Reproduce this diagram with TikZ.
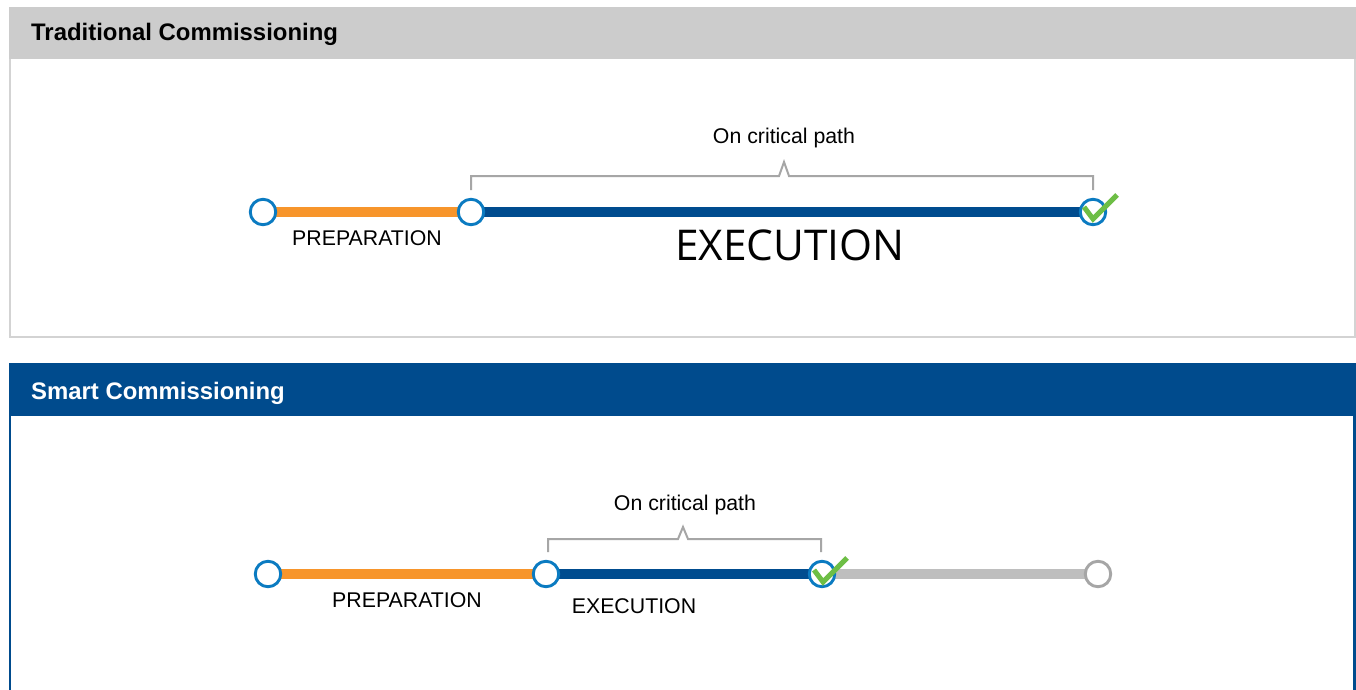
\documentclass[tikz,border=0pt]{standalone}
\usepackage{fontspec}
\setmainfont{Liberation Sans}
\newfontfamily\execfont{Open Sans}
\usetikzlibrary{calc}
\definecolor{hdrgray}{HTML}{CCCCCC}
\definecolor{bordgray}{HTML}{D3D3D3}
\definecolor{hdrblue}{HTML}{004B8D}
\definecolor{linblue}{HTML}{004C8F}
\definecolor{ringblue}{HTML}{0B7BC1}
\definecolor{prepor}{HTML}{F7952B}
\definecolor{restgray}{HTML}{BEBEBE}
\definecolor{ringgray}{HTML}{A6A6A6}
\definecolor{brgray}{HTML}{A6A6A6}
\definecolor{chkgreen}{HTML}{6DBE45}
\pgfdeclarelayer{lines}
\pgfdeclarelayer{background}
\pgfsetlayers{background,lines,main}
\tikzset{
  ring/.style={circle,draw=ringblue,fill=white,line width=2.9pt,minimum size=25.5pt,inner sep=0pt,outer sep=0pt},
  ringoff/.style={ring,draw=ringgray},
  seg/.style={line width=10pt},
  bracket/.style={draw=brgray,line width=2pt},
  check/.style={draw=chkgreen,line width=5pt,line join=miter},
  lbl/.style={font=\fontsize{21.3}{25}\selectfont,inner sep=0pt,anchor=base},
  hdr/.style={font=\fontsize{23.9}{28}\selectfont\bfseries,inner sep=0pt,anchor=base west},
}
\begin{document}
\begin{tikzpicture}[x=1pt,y=-1pt]
\useasboundingbox (0,0) rectangle (1356,689);
% panels
\begin{pgfonlayer}{background}
\fill[white] (0,0) rectangle (1356,689);
\draw[bordgray,line width=2pt] (10,8) rectangle (1354.5,336.5);
\fill[hdrgray] (8.5,7) rectangle (1356,59);
\draw[hdrblue,line width=2.5pt] (10.2,380) -- (10.2,700) (1354.5,380) -- (1354.5,700);
\fill[hdrblue] (8.5,363) rectangle (1356,416);
\end{pgfonlayer}
\node[hdr] (h1) at (31,40) {Traditional Commissioning};
\node[hdr,text=white] (h2) at (31,399.5) {Smart Commissioning};
% ---- top timeline
\node[ring] (t1) at (263,212) {};
\node[ring] (t2) at (471,212) {};
\node[ring] (t3) at (1093,212) {};
\begin{pgfonlayer}{lines}
\draw[seg,prepor] (t1.center) -- (t2.center);
\draw[seg,linblue] (t2.center) -- (t3.center);
\end{pgfonlayer}
\draw[check] ([shift={(-9,-5)}]t3.center) -- ([shift={(0,7)}]t3.center) -- ([shift={(24,-17)}]t3.center);
\draw[bracket] ([shift={(0,-22)}]t2.center) -- ++(0,-14) -- (779,176) -- (784,162) -- (789,176) -- ([shift={(0,-36)}]t3.center) -- ++(0,14);
\node[lbl] (c1) at (784,143) {On critical path};
\node[lbl] (p1) at (367,245) {PREPARATION};
\node[inner sep=0pt,anchor=base,font=\execfont\fontsize{42.4}{48}\selectfont] (e1) at (790,260.5) {EXECUTION};
% ---- bottom timeline
\node[ring] (b1) at (268,574) {};
\node[ring] (b2) at (546,574) {};
\node[ring] (b3) at (822,574) {};
\node[ringoff] (b4) at (1098,574) {};
\begin{pgfonlayer}{lines}
\draw[seg,prepor] (b1.center) -- (b2.center);
\draw[seg,linblue] (b2.center) -- (b3.center);
\draw[seg,restgray] (b3.center) -- (b4.center);
\end{pgfonlayer}
\draw[check] ([shift={(-8,-4)}]b3.center) -- ([shift={(1,8)}]b3.center) -- ([shift={(25,-16)}]b3.center);
\draw[bracket] ([shift={(2,-22)}]b2.center) -- ++(0,-13) -- (678,539) -- (683,527) -- (688,539) -- ([shift={(-1,-35)}]b3.center) -- ++(0,13);
\node[lbl] (c2) at (685,510) {On critical path};
\node[lbl] (p2) at (407,607) {PREPARATION};
\node[lbl] (e2) at (634,613.5) {EXECUTION};
\end{tikzpicture}
\end{document}
